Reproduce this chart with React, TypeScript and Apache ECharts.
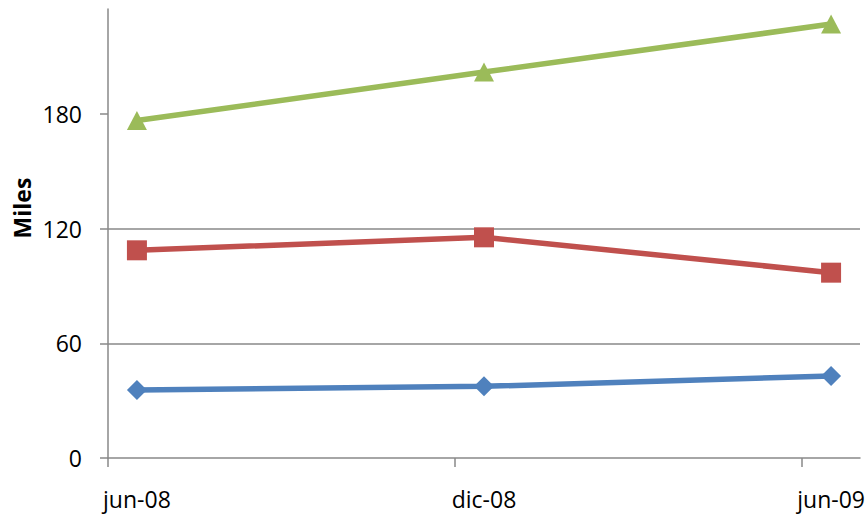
import React, { useEffect, useRef } from "react";
import * as echarts from "echarts";

// Monthly band axis (Excel date axis, base unit = month)
const months = [
  "jun-08", "jul-08", "ago-08", "sep-08", "oct-08", "nov-08",
  "dic-08", "ene-09", "feb-09", "mar-09", "abr-09", "may-09", "jun-09",
];
// Dates that carry data
const pointDates = ["jun-08", "dic-08", "jun-09"];

const blueValues = [35.6, 37.5, 42.9];
const redValues = [108.7, 115.5, 97.0];
const greenValues = [176.6, 202.0, 227.1];

const yTicks = [0, 60, 120, 180];
const yMax = 235;
const yTitle = "Miles";
// month-boundary tick positions (in months from jun-08)
const xTickMonths = [0, 6, 12];

const FONT = "'Open Sans', 'Noto Sans', sans-serif";

function toMonthly(values: number[]): (number | null)[] {
  return months.map((m) => {
    const i = pointDates.indexOf(m);
    return i >= 0 ? values[i] : null;
  });
}

export default function App() {
  const ref = useRef<HTMLDivElement>(null);
  useEffect(() => {
    if (!ref.current) return;
    const chart = echarts.init(ref.current, undefined, { renderer: "svg" });
    const gridColor = "#898989";
    const mkSeries = (
      name: string,
      values: number[],
      color: string,
      symbol: string,
      size: number | number[]
    ) => ({
      name,
      type: "line",
      xAxisIndex: 0,
      data: toMonthly(values),
      connectNulls: true,
      symbol,
      symbolSize: size,
      showAllSymbol: true,
      lineStyle: { color, width: 5.5 },
      itemStyle: { color },
      z: 3,
    });
    chart.setOption({
      animation: false,
      backgroundColor: "#ffffff",
      textStyle: { fontFamily: FONT },
      grid: {
        left: 108,
        right: 7,
        top: 9,
        bottom: 57,
        containLabel: false,
        outerBoundsMode: "none",
      },
      xAxis: [
        {
          type: "category",
          data: months,
          boundaryGap: true,
          position: "bottom",
          axisLine: { show: true, lineStyle: { color: gridColor, width: 1.5 } },
          axisTick: { show: false },
          axisLabel: {
            interval: (index: number) => pointDates.indexOf(months[index]) >= 0,
            color: "#000000",
            fontFamily: FONT,
            fontSize: 23,
            margin: 29,
          },
          splitLine: { show: false },
        },
        {
          type: "value",
          min: 0,
          max: months.length,
          position: "bottom",
          axisLine: { show: false },
          axisLabel: { show: false },
          splitLine: { show: false },
          axisTick: {
            show: true,
            length: 9,
            customValues: xTickMonths,
            lineStyle: { color: gridColor, width: 1.5 },
          },
        },
      ],
      yAxis: {
        type: "value",
        min: 0,
        max: yMax,
        interval: 60,
        axisLine: { show: true, lineStyle: { color: gridColor, width: 1.5 } },
        axisTick: {
          show: true,
          length: 8,
          customValues: yTicks,
          lineStyle: { color: gridColor, width: 1.5 },
        },
        axisLabel: {
          color: "#000000",
          fontFamily: FONT,
          fontSize: 23,
          margin: 26,
          customValues: yTicks,
        },
        splitLine: {
          show: true,
          showMinLine: false,
          showMaxLine: false,
          lineStyle: { color: gridColor, width: 1.5 },
        },
      },
      graphic: [
        {
          type: "text",
          x: 22,
          y: 208,
          rotation: Math.PI / 2,
          style: {
            text: yTitle,
            fill: "#000000",
            font: "bold 23px " + FONT,
            align: "center",
            verticalAlign: "middle",
          },
        },
      ],
      series: [
        mkSeries("Serie 1", blueValues, "#4F81BD", "diamond", 20),
        mkSeries("Serie 2", redValues, "#C0504D", "rect", 20),
        mkSeries("Serie 3", greenValues, "#9BBB59", "triangle", [20, 19]),
      ],
    });
    return () => chart.dispose();
  }, []);
  return (
    <div
      ref={ref}
      style={{ position: "fixed", left: 0, top: 0, width: 867, height: 515 }}
    />
  );
}
